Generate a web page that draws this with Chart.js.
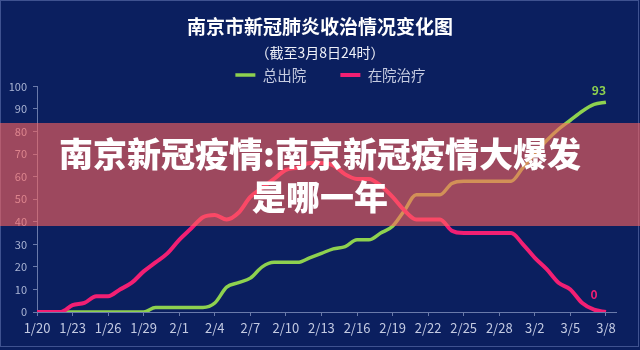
<!DOCTYPE html>
<html><head><meta charset="utf-8">
<script src="https://cdn.jsdelivr.net/npm/chart.js@4.4.0/dist/chart.umd.min.js"></script>
<style>
html,body{margin:0;padding:0;background:#0b1f5f;}
#wrap{position:relative;width:640px;height:350px;overflow:hidden;background:#0b1f5f;}
canvas{position:absolute;left:0;top:0;}
#frame{position:absolute;left:0;top:0;width:637px;height:345px;border:1px solid #3f5290;pointer-events:none;}
#band{position:absolute;left:0;top:123px;width:640px;height:103px;background:rgba(255,100,94,0.6);}
#bandText{position:absolute;left:0;top:131px;width:640px;text-align:center;color:#fff;font:900 34px/43px "Noto Sans CJK SC";}
</style></head>
<body><div id="wrap"><canvas id="c" width="640" height="350"></canvas><div id="frame"></div><div id="band"></div><div id="bandText">南京新冠疫情:南京新冠疫情大爆发<br>是哪一年</div></div>
<script>
const dates = ['1/20','1/21','1/22','1/23','1/24','1/25','1/26','1/27','1/28','1/29','1/30','1/31',
  '2/1','2/2','2/3','2/4','2/5','2/6','2/7','2/8','2/9','2/10','2/11','2/12','2/13','2/14','2/15','2/16','2/17','2/18','2/19','2/20','2/21','2/22','2/23','2/24','2/25','2/26','2/27','2/28','2/29',
  '3/1','3/2','3/3','3/4','3/5','3/6','3/7','3/8'];
const discharged = [0,0,0,0,0,0,0,0,0,0, 2,2,2,2,2,4,11,13,15,20, 22,22,22,24,26,28,29,32,32,35, 38,45,52,52,52,57,58,58,58,58, 58,64,70,76,81,85,89,92,93];
const inHospital = [0,0,0,3,4,7,7,10,13,18, 22,26,32,37,42,43,41,44,51,55, 59,63,64,66,66,65,61,59,59,56, 51,45,41,41,41,36,35,35,35,35, 35,30,24,19,13,10,4,1,0];
const seriesNames = ['总出院','在院治疗'];
const yTicks = [0,10,20,30,40,50,60,70,80,90,100];

const F = '"Noto Sans CJK SC", "Noto Sans", sans-serif';
const AX = '#6a7aaa';
const endLabelOffsets = [[-7,-12],[-12,-18]];

const legendNudge = {
  id:'legendNudge',
  afterLayout(chart){
    const lg = chart.legend;
    const p = lg.options.labels.padding;
    const fs = 14.5;
    const dy = 75 - (lg.top + p + fs/2);
    lg.top += dy; lg.left += 4; lg.right += 4;
    lg.bottom = lg.top + p + fs + 12;
    lg.height = lg.bottom - lg.top;
  }
};
const endLabels = {
  id:'endLabels',
  afterDatasetsDraw(chart){
    const ctx = chart.ctx;
    chart.data.datasets.forEach((ds,i)=>{
      const meta = chart.getDatasetMeta(i);
      const last = meta.data.length-1;
      const pt = meta.data[last];
      ctx.save();
      ctx.font = 'bold 12px ' + F;
      ctx.fillStyle = ds.borderColor;
      ctx.textAlign = 'center';
      ctx.textBaseline = 'middle';
      ctx.fillText(String(ds.data[last].y), pt.x + endLabelOffsets[i][0], pt.y + endLabelOffsets[i][1]);
      ctx.restore();
    });
  }
};

new Chart(document.getElementById('c'), {
  type:'line',
  data:{
    datasets:[
      {label:seriesNames[0], data:discharged.map((v,i)=>({x:i,y:v})), borderColor:'#8ed14f', backgroundColor:'#8ed14f', borderWidth:3.5, pointRadius:0, cubicInterpolationMode:'monotone', order:1},
      {label:seriesNames[1], data:inHospital.map((v,i)=>({x:i,y:v})), borderColor:'#f21f73', backgroundColor:'#f21f73', borderWidth:4, pointRadius:0, cubicInterpolationMode:'monotone', order:0}
    ]
  },
  options:{
    responsive:false, animation:false, devicePixelRatio:1,
    layout:{padding:{left:0,right:0,top:0,bottom:0}},
    plugins:{
      title:{display:true, text:'南京市新冠肺炎收治情况变化图', color:'#ffffff', font:{family:F,size:19,weight:'bold'}, padding:{top:15,bottom:0}},
      subtitle:{display:true, text:'（截至3月8日24时）', color:'#eef0f8', font:{family:F,size:14}, padding:{top:6,bottom:0}},
      legend:{display:true, position:'top', fullSize:false, maxHeight:25.8,
        labels:{usePointStyle:true, pointStyle:'line', pointStyleWidth:20, padding:34.25, color:'#c5cbe0', font:{family:F,size:14.5},
          sort:(a,b)=>a.datasetIndex-b.datasetIndex}},
      tooltip:{enabled:false}
    },
    scales:{
      x:{type:'linear', min:0, max:48.85,
        afterFit(s){s.height=38;},
        border:{display:true,color:AX,width:1},
        grid:{display:true,drawOnChartArea:false,drawTicks:true,tickLength:4,color:AX},
        ticks:{stepSize:3, includeBounds:false, autoSkip:false, maxRotation:0, color:'#c3cae2', font:{family:F,size:13}, padding:4,
          callback:(v)=>dates[v]}},
      y:{min:0, max:100,
        afterFit(s){s.width=37;},
        border:{display:true,color:AX,width:1},
        grid:{display:true,drawOnChartArea:false,drawTicks:true,tickLength:4,color:AX},
        afterBuildTicks(s){s.ticks = yTicks.map(v=>({value:v}));},
        ticks:{color:'#aab4d4', font:{family:F,size:11}, padding:6}},
      yRight:{position:'right', min:0, max:100, display:true,
        afterFit(s){s.width=24;},
        border:{display:false}, grid:{display:false}, ticks:{display:false}}
    }
  },
  plugins:[legendNudge, endLabels]
});
</script>
</body></html>
